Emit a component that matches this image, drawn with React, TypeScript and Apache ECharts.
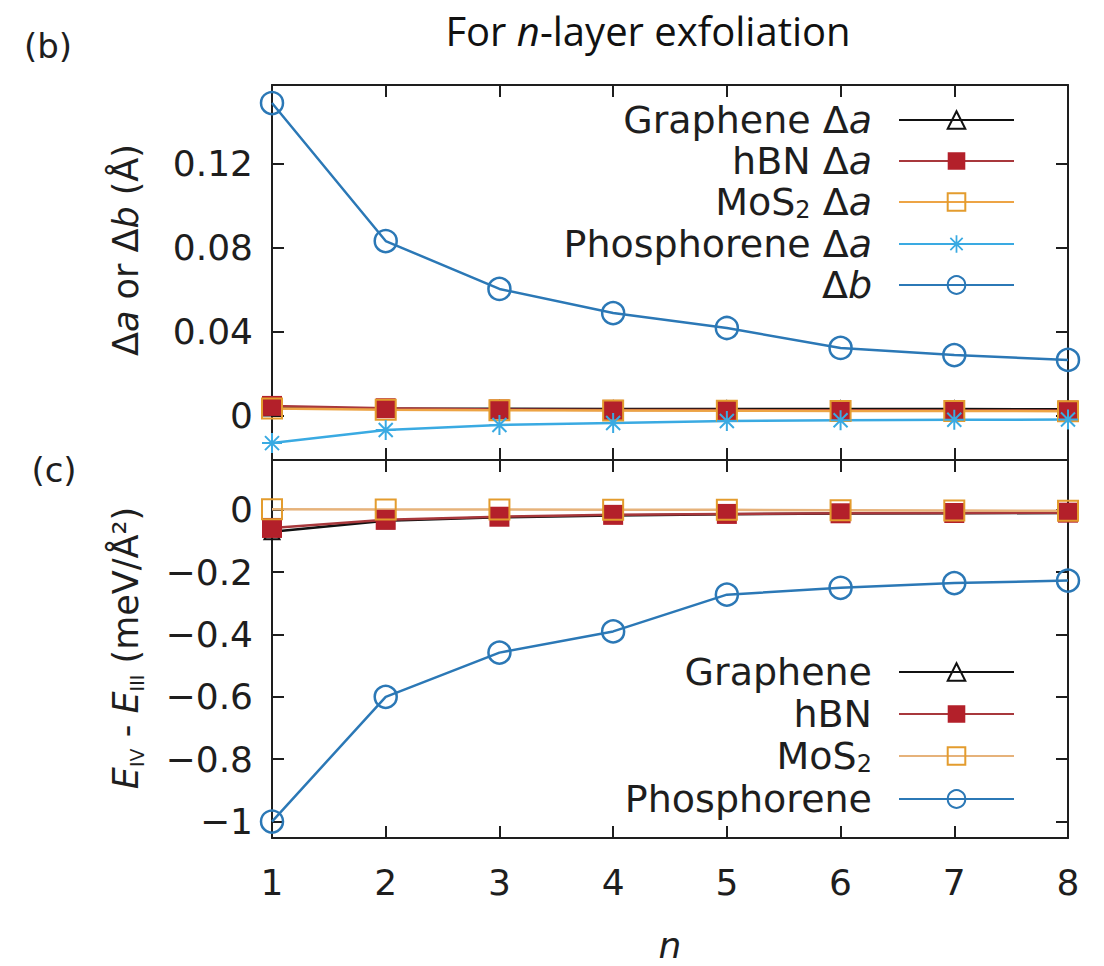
import React, { useEffect, useRef } from 'react';
import * as echarts from 'echarts';

// ---------- data ----------
const layers = [1, 2, 3, 4, 5, 6, 7, 8];

// panel (b): lattice change (Å)
const grapheneDa = [0.0038, 0.0034, 0.0034, 0.0033, 0.0033, 0.0033, 0.0033, 0.0032];
const hbnDa = [0.0048, 0.0037, 0.0031, 0.0029, 0.0028, 0.0027, 0.0026, 0.0026];
const mos2Da = [0.0036, 0.003, 0.0027, 0.0026, 0.0025, 0.0024, 0.0024, 0.0023];
const phosDa = [-0.0129, -0.0067, -0.0043, -0.0033, -0.0024, -0.002, -0.0018, -0.0017];
const phosDb = [0.149, 0.0833, 0.0605, 0.049, 0.0419, 0.0324, 0.029, 0.0267];

// panel (c): E_IV - E_III (meV/Å^2)
const grapheneE = [-0.07, -0.035, -0.024, -0.018, -0.014, -0.012, -0.011, -0.01];
const hbnE = [-0.058, -0.032, -0.022, -0.016, -0.013, -0.011, -0.01, -0.009];
const mos2E = [0.002, 0.0015, 0.001, 0.0005, 0, -0.001, -0.002, -0.003];
const phosE = [-1.0, -0.6, -0.458, -0.39, -0.272, -0.25, -0.235, -0.227];

const topTicks = [0, 0.04, 0.08, 0.12];
const bottomTicks = [0, -0.2, -0.4, -0.6, -0.8, -1];
const xTicks = [1, 2, 3, 4, 5, 6, 7, 8];

const topNames = ['Graphene Δa', 'hBN Δa', 'MoS2 Δa', 'Phosphorene Δa', 'Δb'];
const bottomNames = ['Graphene', 'hBN', 'MoS2', 'Phosphorene'];

const FONT = 'DejaVu Sans';
const INK = '#1e1e1e';
const C_GRAPHENE = '#111111';
const C_HBN_LINE = '#a8383c';
const C_HBN = '#b3202a';
const C_MOS2 = '#e39c2e';
const C_MOS2_LINE = '#eda445';
const C_MOS2_LINE_C = '#e6b27a';
const C_PHOS_A = '#3aaae2';
const C_PHOS_B = '#2b78b6';

const ASTERISK =
  'path://M-10,-1L10,-1L10,1L-10,1Z M-1,-10L1,-10L1,10L-1,10Z ' +
  'M-6.3,-7.7L7.7,6.3L6.3,7.7L-7.7,-6.3Z M-7.7,6.3L6.3,-7.7L7.7,-6.3L-6.3,7.7Z';

const pts = (ys: number[]) => layers.map((n, i) => [n, ys[i]]);

const legendRich = {
  t: { fontFamily: FONT, fontSize: 38, color: INK, lineHeight: 40 },
  i: { fontFamily: FONT, fontSize: 38, color: INK, lineHeight: 40, fontStyle: 'italic' },
  s: { fontFamily: FONT, fontSize: 24, color: INK, lineHeight: 40, verticalAlign: 'bottom' },
  e: { width: 22, fontSize: 38, lineHeight: 40 },
};

const legendLabel: Record<string, string> = {
  'Graphene Δa': '{t|Graphene Δ}{i|a}{e| }',
  'hBN Δa': '{t|hBN Δ}{i|a}{e| }',
  'MoS2 Δa': '{t|MoS}{s|2}{t| Δ}{i|a}{e| }',
  'Phosphorene Δa': '{t|Phosphorene Δ}{i|a}{e| }',
  'Δb': '{t|Δ}{i|b}{e| }',
  Graphene: '{t|Graphene}{e| }',
  hBN: '{t|hBN}{e| }',
  MoS2: '{t|MoS}{s|2}{e| }',
  Phosphorene: '{t|Phosphorene}{e| }',
};

export default function App() {
  const ref = useRef<HTMLDivElement>(null);

  useEffect(() => {
    const chart = echarts.init(ref.current!, null, { renderer: 'svg' });

    const axisLine = { show: true, onZero: false, lineStyle: { color: INK, width: 2 } };
    const tick = { show: true, inside: true, length: 12, lineStyle: { color: INK, width: 2 } };
    const labelStyle = { fontFamily: FONT, fontSize: 36, color: INK };

    const xAxis = (grid: number, pos: 'top' | 'bottom', label: boolean) => ({
      gridIndex: grid,
      type: 'value',
      min: 1,
      max: 8,
      interval: 1,
      position: pos,
      axisLine,
      axisTick: { ...tick, customValues: xTicks },
      axisLabel: label
        ? { ...labelStyle, margin: 26, customValues: xTicks, formatter: (v: number) => String(v) }
        : { show: false },
      splitLine: { show: false },
    });

    const fmtTop = (v: number) => (v === 0 ? '0' : v.toFixed(2));
    const fmtBottom = (v: number) =>
      v === 0 ? '0' : v === -1 ? '\u22121' : '\u2212' + Math.abs(v).toFixed(1);

    const yAxis = (
      grid: number,
      pos: 'left' | 'right',
      min: number,
      max: number,
      ticks: number[],
      fmt: ((v: number) => string) | null
    ) => ({
      gridIndex: grid,
      type: 'value',
      min,
      max,
      position: pos,
      axisLine,
      axisTick: { ...tick, customValues: ticks },
      axisLabel: fmt
        ? { ...labelStyle, margin: 19, customValues: ticks, formatter: fmt }
        : { show: false },
      splitLine: { show: false },
    });

    const openItem = (c: string, w = 2) => ({
      color: 'rgba(255,255,255,0)',
      borderColor: c,
      borderWidth: w,
    });

    const legendBase = {
      orient: 'vertical',
      align: 'right',
      right: 89,
      padding: 0,
      itemWidth: 115,
      itemHeight: 22,
      selectedMode: false,
      textStyle: { fontFamily: FONT, fontSize: 38, color: INK, rich: legendRich },
      formatter: (name: string) => legendLabel[name] ?? name,
    };

    const option = {
      animation: false,
      backgroundColor: '#ffffff',
      grid: [
        { left: 272, right: 36, top: 85, height: 375 },
        { left: 272, right: 36, top: 460, height: 378 },
      ],
      xAxis: [
        xAxis(0, 'bottom', false),
        xAxis(0, 'top', false),
        xAxis(1, 'bottom', true),
        xAxis(1, 'top', false),
      ],
      yAxis: [
        yAxis(0, 'left', -0.02095, 0.1576, topTicks, fmtTop),
        yAxis(0, 'right', -0.02095, 0.1576, topTicks, null),
        yAxis(1, 'left', -1.0528, 0.16, bottomTicks, fmtBottom),
        yAxis(1, 'right', -1.0528, 0.16, bottomTicks, null),
      ],
      legend: [
        { ...legendBase, data: topNames, top: 101, itemGap: 3 },
        { ...legendBase, data: bottomNames, top: 653, itemGap: 4 },
      ],
      series: [
        {
          name: 'Graphene Δa',
          type: 'line',
          xAxisIndex: 0,
          yAxisIndex: 0,
          data: pts(grapheneDa),
          symbol: 'triangle',
          symbolSize: 15,
          lineStyle: { color: C_GRAPHENE, width: 2.5 },
          itemStyle: openItem(C_GRAPHENE),
        },
        {
          name: 'hBN Δa',
          type: 'line',
          xAxisIndex: 0,
          yAxisIndex: 0,
          data: pts(hbnDa),
          symbol: 'rect',
          symbolSize: 20,
          lineStyle: { color: C_HBN_LINE, width: 2.5 },
          itemStyle: { color: C_HBN },
        },
        {
          name: 'MoS2 Δa',
          type: 'line',
          xAxisIndex: 0,
          yAxisIndex: 0,
          data: pts(mos2Da),
          symbol: 'rect',
          symbolSize: 20,
          lineStyle: { color: C_MOS2_LINE, width: 2.5 },
          itemStyle: openItem(C_MOS2),
        },
        {
          name: 'Phosphorene Δa',
          type: 'line',
          xAxisIndex: 0,
          yAxisIndex: 0,
          data: pts(phosDa),
          symbol: ASTERISK,
          symbolSize: 20,
          lineStyle: { color: C_PHOS_A, width: 2.5 },
          itemStyle: { color: C_PHOS_A },
        },
        {
          name: 'Δb',
          type: 'line',
          xAxisIndex: 0,
          yAxisIndex: 0,
          data: pts(phosDb),
          symbol: 'circle',
          symbolSize: 22,
          lineStyle: { color: C_PHOS_B, width: 2.5 },
          itemStyle: openItem(C_PHOS_B, 2.5),
        },
        {
          name: 'Graphene',
          type: 'line',
          xAxisIndex: 2,
          yAxisIndex: 2,
          data: pts(grapheneE),
          symbol: 'triangle',
          symbolSize: 15,
          lineStyle: { color: C_GRAPHENE, width: 2.5 },
          itemStyle: openItem(C_GRAPHENE),
        },
        {
          name: 'hBN',
          type: 'line',
          xAxisIndex: 2,
          yAxisIndex: 2,
          data: pts(hbnE),
          symbol: 'rect',
          symbolSize: 20,
          lineStyle: { color: C_HBN_LINE, width: 2.5 },
          itemStyle: { color: C_HBN },
        },
        {
          name: 'MoS2',
          type: 'line',
          xAxisIndex: 2,
          yAxisIndex: 2,
          data: pts(mos2E),
          symbol: 'rect',
          symbolSize: 20,
          lineStyle: { color: C_MOS2_LINE_C, width: 2.5 },
          itemStyle: openItem(C_MOS2),
        },
        {
          name: 'Phosphorene',
          type: 'line',
          xAxisIndex: 2,
          yAxisIndex: 2,
          data: pts(phosE),
          symbol: 'circle',
          symbolSize: 22,
          lineStyle: { color: C_PHOS_B, width: 2.5 },
          itemStyle: openItem(C_PHOS_B, 2.5),
        },
      ],
      graphic: [
        {
          type: 'text',
          x: 648,
          y: 30,
          style: {
            text: '{r|For }{i|n}{r|-layer exfoliation}',
            align: 'center',
            verticalAlign: 'middle',
            rich: {
              r: { fontFamily: 'Open Sans', fontSize: 40, fill: '#111' },
              i: { fontFamily: 'Open Sans', fontSize: 40, fill: '#111', fontStyle: 'italic' },
            },
          },
        },
        {
          type: 'text',
          x: 48,
          y: 46,
          style: {
            text: '(b)',
            align: 'center',
            verticalAlign: 'middle',
            fontFamily: FONT,
            fontSize: 34,
            fill: INK,
          },
        },
        {
          type: 'text',
          x: 54,
          y: 470,
          style: {
            text: '(c)',
            align: 'center',
            verticalAlign: 'middle',
            fontFamily: FONT,
            fontSize: 34,
            fill: INK,
          },
        },
        {
          type: 'text',
          x: 126,
          y: 250,
          rotation: Math.PI / 2,
          style: {
            text: '{t|Δ}{i|a}{t| or Δ}{i|b}{t| (Å)}',
            align: 'center',
            verticalAlign: 'middle',
            rich: {
              t: { fontFamily: FONT, fontSize: 35, fill: INK, lineHeight: 40 },
              i: { fontFamily: FONT, fontSize: 35, fill: INK, fontStyle: 'italic', lineHeight: 40 },
            },
          },
        },
        {
          type: 'text',
          x: 126,
          y: 648,
          rotation: Math.PI / 2,
          style: {
            text: '{i|E}{s|IV}{t| - }{i|E}{s|III}{t| (meV/Å²)}',
            align: 'center',
            verticalAlign: 'middle',
            rich: {
              t: { fontFamily: FONT, fontSize: 35, fill: INK, lineHeight: 40 },
              i: { fontFamily: FONT, fontSize: 35, fill: INK, fontStyle: 'italic', lineHeight: 40 },
              s: { fontFamily: FONT, fontSize: 19, fill: INK, lineHeight: 40, verticalAlign: 'bottom' },
            },
          },
        },
        {
          type: 'text',
          x: 670,
          y: 945,
          style: {
            text: 'n',
            align: 'center',
            verticalAlign: 'middle',
            fontFamily: FONT,
            fontSize: 36,
            fontStyle: 'italic',
            fill: INK,
          },
        },
      ],
    };

    chart.setOption(option as any);
    return () => chart.dispose();
  }, []);

  return (
    <div
      ref={ref}
      style={{ position: 'absolute', left: 0, top: 0, width: 1104, height: 966, background: '#fff' }}
    />
  );
}
